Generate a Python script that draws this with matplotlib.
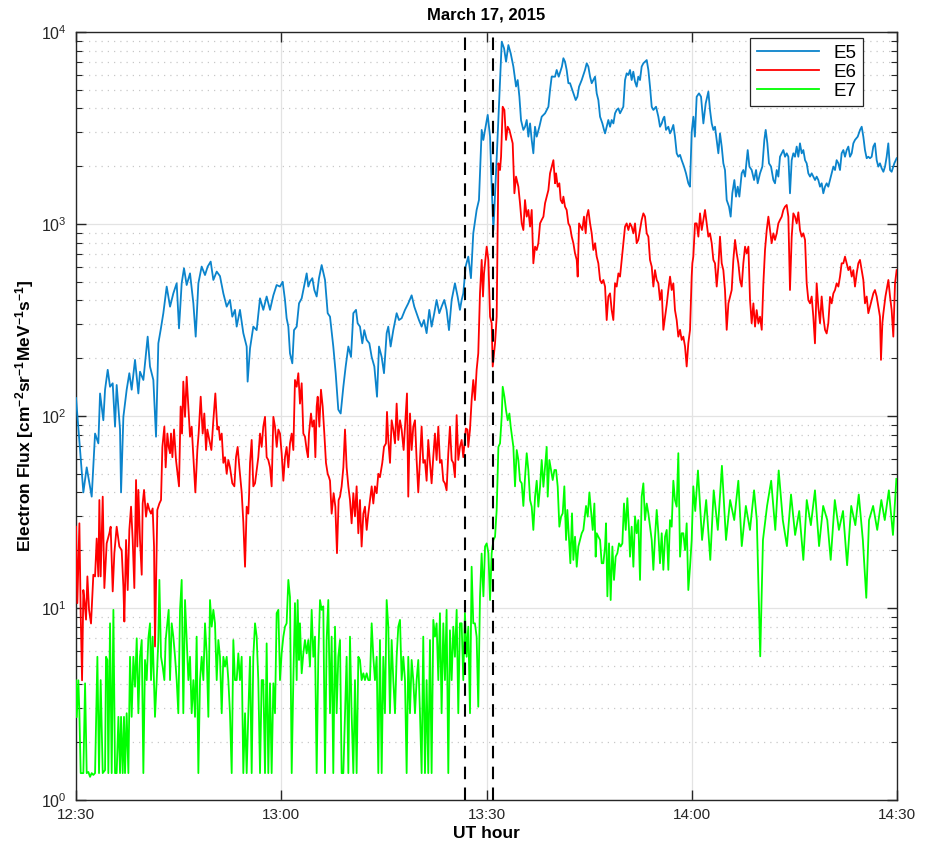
import numpy as np
import matplotlib
matplotlib.use('Agg')
import matplotlib.pyplot as plt
from matplotlib.ticker import LogLocator, NullFormatter, FixedLocator

plt.rcParams['font.family'] = ['Liberation Sans', 'DejaVu Sans']
plt.rcParams['mathtext.fontset'] = 'custom'
plt.rcParams['mathtext.rm'] = 'Liberation Sans'
plt.rcParams['mathtext.bf'] = 'Liberation Sans:bold'
plt.rcParams['mathtext.default'] = 'regular'

# tempo em minutos desde 12:30 UT
tick_minutes = [0, 30, 60, 90, 120]
tick_labels = ['12:30', '13:00', '13:30', '14:00', '14:30']
event_minutes = [56.8, 61.0]

t_e5 = [0, 1.07, 1.56, 2.29, 2.78, 3.26, 3.51, 3.99, 4.24, 4.63, 4.97, 5.36, 5.70, 5.94, 6.43, 6.58, 6.92,
        7.40, 7.79, 8.13, 8.62, 9.11, 9.35, 9.84, 10.47, 10.81, 11.30, 11.69, 12.03, 12.37, 12.76, 13.25,
        13.74, 14.22, 14.71, 15.05, 15.44, 15.78, 16.17, 16.66, 17.15, 17.49, 17.88, 18.36, 18.85, 19.24,
        19.68, 20.07, 20.56, 21.04, 21.53, 22.02, 22.50, 22.84, 23.23, 23.48, 23.96, 24.45, 24.94, 25.08,
        25.43, 25.91, 26.40, 26.89, 27.37, 27.86, 28.35, 28.84, 29.32, 29.81, 30.20, 30.54,
        30.78, 31.03, 31.27, 31.61, 31.86, 32.25, 32.59, 32.98, 33.22, 33.71, 33.95, 34.19, 34.54, 34.83,
        35.17, 35.51, 35.90, 36.39, 36.78, 37.12, 37.60, 37.95, 38.33, 38.68, 39.07, 39.41, 39.80, 40.19,
        40.53, 40.92, 41.16, 41.50, 41.84, 42.13, 42.48, 42.87, 43.21, 43.60, 43.99, 44.28, 44.67, 45.01,
        45.40, 45.64, 45.98, 46.37, 46.86, 47.20, 47.59, 48.08, 48.56, 49.05, 49.44, 49.78, 50.12, 50.51,
        50.85, 51.24, 51.63, 51.97, 52.36, 52.70, 53.09, 53.43, 53.82, 54.16, 54.51, 54.90, 55.38, 55.77,
        56.11, 56.36, 56.60, 56.94, 57.33, 57.72, 58.06, 58.55, 58.89,
        59.29, 59.53, 59.78, 60.17, 60.51, 60.75, 61.0, 61.49, 61.87, 62.22, 62.56, 62.85, 63.19, 63.53,
        63.92, 64.31, 64.55, 64.80, 65.04, 65.38, 65.63, 65.87, 66.11, 66.36, 66.60, 66.84, 67.08, 67.33,
        67.72, 68.06, 68.55, 69.04, 69.28, 69.52, 70.01, 70.25, 70.55, 71.01, 71.23, 71.47, 71.71, 71.96,
        72.20, 72.45, 72.69, 73.03, 73.28, 73.52, 73.91, 74.39, 74.64, 74.88, 75.13, 75.37, 75.61, 75.86,
        76.10, 76.34, 76.59, 76.93, 77.17, 77.32, 77.56, 77.80, 78.05, 78.29, 78.54, 78.78, 79.02, 79.27,
        79.51, 79.75, 79.99, 80.24, 80.48, 80.73, 80.97, 81.21, 81.45, 81.70, 81.94, 82.18, 82.43, 82.67,
        82.92, 83.16, 83.41, 83.65, 83.89, 84.14, 84.38, 84.77, 85.11, 85.35, 85.60, 85.84, 85.99, 86.23,
        86.57, 86.81, 87.06, 87.30, 87.54, 87.79, 88.03, 88.28, 88.52, 88.86, 89.15, 89.49, 89.73, 89.98,
        90.23, 90.45, 90.71, 91.05, 91.35, 91.69, 92.03, 92.42, 92.66, 92.91, 93.15, 93.39, 93.64, 93.88,
        94.12, 94.37, 94.61, 94.85, 95.10, 95.44, 95.68, 95.92, 96.22, 96.46, 96.71, 96.95, 97.29, 97.53,
        97.78, 98.17, 98.42, 98.75, 99.10, 99.39, 99.63, 99.97, 100.31, 100.60, 100.80, 101.04, 101.28,
        101.58, 101.92, 102.16, 102.41, 102.65, 102.89, 103.14, 103.38, 103.63, 103.87, 104.11, 104.35,
        104.60, 104.84, 105.08, 105.33, 105.57, 105.81, 106.06, 106.30, 106.55, 106.79, 107.03, 107.28,
        107.52, 107.76, 108.01, 108.25, 108.49, 108.74, 108.98, 109.22, 109.47, 109.71, 109.95, 110.20,
        110.44, 110.69, 110.93, 111.17, 111.42, 111.66, 111.90, 112.15, 112.39, 112.64, 112.88, 113.12,
        113.37, 113.61, 113.85, 114.25, 114.59, 114.83, 115.07, 115.31, 115.56, 115.80, 116.04, 116.29,
        116.53, 116.77, 117.02, 117.26, 117.50, 117.75, 118.0, 118.24, 118.48, 118.72, 118.97, 119.21,
        119.6, 119.94]
e5 = [124, 40, 54, 38, 81, 72, 131, 95, 137, 174, 142, 148, 88, 145, 85, 40, 99,
      137, 167, 137, 196, 131, 170, 154, 259, 181, 154, 78, 239, 281, 343, 472,
      371, 435, 491, 286, 491, 588, 481, 553, 386, 259, 491, 600, 542, 600,
      637, 511, 565, 535, 435, 371, 402, 329, 357, 292, 357, 270, 230, 151,
      225, 292, 280, 410, 357, 419, 357, 425, 481, 472, 500, 402,
      323, 292, 212, 188, 280, 292, 386, 410, 453, 553, 472, 500, 522, 453,
      419, 522, 611, 511, 343, 329, 230, 167, 108, 103, 142, 181, 230, 203,
      343, 357, 304, 292, 239, 280, 249, 239, 203, 181, 126, 230, 203, 167,
      270, 292, 230, 280, 343, 316, 323, 357, 386, 425, 371, 343, 316, 292,
      316, 270, 357, 292, 343, 402, 343, 371, 402, 357, 280, 402, 491, 419,
      357, 402, 435, 600, 676, 522, 894, 1183, 1333,
      3090, 2738, 3090, 3700, 2850, 1564, 930, 2240, 4600, 8900, 8220, 7000, 8550, 7740,
      6600, 5200, 5620, 4600, 3470, 3090, 3210, 3480, 2850, 3340, 2738, 2334, 3210, 2850,
      3210, 3620, 3770, 4080, 4990, 5850, 5850, 6340, 5850, 6600, 7300, 7000, 6340, 5410,
      5410, 5090, 4790, 4420, 4600, 5190, 5620, 6340, 6870, 6600, 5850, 5410, 5620, 5850,
      4790, 4420, 3620, 3340, 3090, 2965, 3210, 3480, 3210, 3480, 3340, 3770, 3925, 4000,
      3770, 3925, 4080, 5620, 6090, 5970, 6340, 5620, 6210, 5510, 5190, 5850, 5620, 6600,
      6870, 7000, 7140, 6340, 5190, 4080, 3925, 4080, 3620, 3210, 3340, 3550, 3620, 3090,
      3210, 2965, 3090, 3280, 2850, 2334, 2240, 2290, 2150, 1990, 1836, 1629, 1564, 3000,
      3620, 2850, 4600, 4790, 4600, 3340, 4250, 4890, 3925, 3340, 3090, 3210, 2738, 2334,
      2965, 2530, 2070, 1910, 1333, 1230, 1092, 1445, 1694, 1388, 1564, 1388, 1836, 1910,
      1765, 2427, 1990, 1910, 1694, 1910, 1629, 1836, 1990, 2740, 3090, 2630, 2070,
      1990, 1694, 1629, 1910, 1765, 2240, 2334, 2427, 2240, 2334, 2240, 1445,
      2150, 2334, 2240, 2530, 2240, 2630, 2334, 2427, 2150, 2070, 1836, 1765,
      1836, 1765, 1694, 1765, 1694, 1564, 1629, 1445, 1564, 1629, 1564, 1694,
      1836, 1990, 1910, 2150, 2070, 1910, 2334, 2427, 2240, 2427, 2530, 2240,
      2334, 2630, 2740, 2850, 3090, 3210, 2850, 2427, 2200, 2240, 2200, 2240,
      2530, 2630, 2150, 1990, 2070, 1950, 1870, 1990, 2240, 2630, 1910, 1870,
      2070, 2200]

t_e6 = [0, 0.19, 0.49, 0.68, 0.88, 1.07, 1.27, 1.46, 1.66, 1.90, 2.19, 2.53, 2.78, 3.02, 3.26, 3.41, 3.60,
        3.90, 4.14, 4.48, 4.87, 5.06, 5.36, 5.60, 5.94, 6.33, 6.67, 6.92, 7.06, 7.31, 7.55, 7.79, 8.04,
        8.28, 8.52, 8.77, 8.96, 9.11, 9.35, 9.60, 9.74, 9.94, 10.23, 10.47, 10.72, 10.96, 11.20, 11.40,
        11.54, 11.69, 11.88, 12.18, 12.42, 12.62, 12.91, 13.10, 13.35, 13.54, 13.74, 13.88, 14.08, 14.32,
        14.61, 15.05, 15.29, 15.49, 15.68, 15.93, 16.17, 16.42, 16.66, 16.90, 17.24, 17.44, 17.73, 17.92,
        18.22, 18.51, 18.75, 19.0, 19.19, 19.48, 19.78, 20.07, 20.36, 20.65, 20.85, 21.04, 21.29, 21.53,
        21.77, 22.02, 22.26, 22.50, 22.84, 23.14, 23.38, 23.62, 23.87, 24.21, 24.45, 24.70, 24.94, 25.18,
        25.30, 25.43, 25.67, 25.91, 26.16, 26.40, 26.64, 26.89, 27.13, 27.37, 27.62, 27.86, 28.10, 28.35,
        28.59, 28.84, 29.08, 29.33, 29.57, 29.81, 30.05, 30.30, 30.54, 30.78, 31.03, 31.27, 31.52, 31.76,
        32.0, 32.25, 32.49, 32.73, 32.98, 33.22, 33.46, 33.71, 33.90, 34.05, 34.34, 34.54, 34.78, 34.98,
        35.17, 35.32, 35.56, 35.80, 36.05, 36.29, 36.53, 36.78, 36.97, 37.12, 37.36, 37.65, 37.90, 38.14,
        38.38, 38.58, 38.82, 39.07, 39.31, 39.55, 39.80, 40.04, 40.28, 40.53, 40.77, 41.01, 41.26, 41.50,
        41.74, 41.99, 42.23, 42.48, 42.72, 42.97, 43.21, 43.45, 43.69, 43.94, 44.18, 44.42, 44.76, 45.01,
        45.30, 45.45, 45.64, 45.89, 46.13, 46.37, 46.62, 46.86, 47.10, 47.35, 47.59, 47.88, 48.08, 48.37,
        48.56, 48.81, 49.05, 49.29, 49.54, 49.78, 50.02, 50.27, 50.51, 50.75, 50.99, 51.24, 51.48, 51.73,
        51.97, 52.21, 52.46, 52.70, 52.95, 53.19, 53.43, 53.68, 53.92, 54.16, 54.41, 54.65, 54.90, 55.14,
        55.38, 55.63, 55.87, 56.11, 56.36, 56.60, 56.97, 57.21, 57.33, 57.58, 57.82, 58.06, 58.30, 58.55,
        58.79, 59.04, 59.29, 59.48, 59.63, 60.02, 60.26, 60.51, 60.75, 60.90, 61.09, 61.24, 61.48, 61.73,
        61.97, 62.12, 62.36, 62.61, 62.85, 63.09, 63.34, 63.58, 63.82, 64.07, 64.31, 64.65, 64.89, 65.14,
        65.38, 65.62, 65.87, 66.11, 66.36, 66.60, 66.84, 67.09, 67.33, 67.57, 67.82, 68.06, 68.31, 68.55,
        68.79, 69.04, 69.28, 69.53, 69.77, 70.01, 70.16, 70.40, 70.64, 70.84, 71.08, 71.23, 71.47, 71.71,
        71.96, 72.20, 72.45, 72.69, 72.93, 73.18, 73.32, 73.52, 73.76, 74.0, 74.24, 74.49, 74.64, 74.88,
        75.13, 75.37, 75.61, 75.86, 76.10, 76.34, 76.59, 76.83, 77.07, 77.32, 77.56, 77.80, 78.05, 78.29,
        78.53, 78.78, 79.02, 79.27, 79.51, 79.75, 80.0, 80.24, 80.48, 80.73, 80.97, 81.21, 81.46, 81.70,
        81.94, 82.18, 82.43, 82.67, 82.92, 83.16, 83.41, 83.65, 83.89, 84.14, 84.38, 84.62, 84.87, 85.11,
        85.35, 85.60, 85.84, 86.09, 86.33, 86.57, 86.82, 87.06, 87.30, 87.54, 87.79, 88.03, 88.28, 88.52,
        88.76, 89.01, 89.25, 89.49, 89.74, 89.98, 90.08, 90.22, 90.47, 90.71, 90.96, 91.20, 91.45, 91.69,
        91.93, 92.18, 92.42, 92.66, 92.91, 93.15, 93.39, 93.64, 93.88, 94.12, 94.37, 94.61, 94.85, 95.10,
        95.35, 95.59, 95.83, 96.07, 96.32, 96.56, 96.80, 97.05, 97.29, 97.53, 97.78, 98.02, 98.27, 98.51,
        98.75, 99.0, 99.24, 99.48, 99.73, 99.97, 100.22, 100.46, 100.70, 100.95, 101.19, 101.43, 101.67,
        101.92, 102.16, 102.41, 102.65, 102.89, 103.14, 103.38, 103.62, 103.87, 104.11, 104.35, 104.60,
        104.84, 105.08, 105.33, 105.57, 105.81, 106.06, 106.30, 106.55, 106.79, 107.03, 107.28, 107.52,
        107.76, 108.0, 108.25, 108.49, 108.74, 108.98, 109.22, 109.47, 109.71, 109.95, 110.20, 110.44,
        110.69, 110.93, 111.17, 111.42, 111.66, 111.90, 112.15, 112.39, 112.64, 112.88, 113.12, 113.37,
        113.61, 113.85, 114.10, 114.34, 114.58, 114.83, 115.07, 115.31, 115.56, 115.80, 116.04, 116.29,
        116.53, 116.77, 117.02, 117.26, 117.50, 117.65, 117.85, 118.0, 118.30, 118.73, 118.97, 119.21,
        119.45, 119.70, 119.94]
e6 = [26.5, 10.6, 27.6, 9.4, 4.2, 12.4, 10.6, 8.7, 14.6, 9.8, 8.3, 14.9, 14.6, 23, 14.6, 36.5, 14.6,
      38, 12.7, 21.7, 24.5, 26.5, 12.2, 19.3, 26.5, 20.9, 20, 12.9, 8.5, 22.6, 12.4, 25.5, 33.7,
      22.6, 12.7, 46.4, 20.9, 41.2, 22.6, 14.9, 35, 41.2, 29.9, 35, 32.4, 31, 33, 20.9,
      6.3, 12.9, 32.4, 35, 36.5, 69, 88, 54, 81, 69, 64, 81, 61, 85,
      59, 43, 112, 81, 151, 99, 160, 112, 78, 88, 54, 40, 66.5, 81,
      126, 81, 103, 66.5, 85, 75, 66.5, 95, 131, 85, 88, 75, 81, 57,
      61, 50, 59, 54, 44.6, 43, 61, 69, 54, 40, 28, 16.4, 33.7, 31,
      39.6, 57, 75, 43, 44.6, 52, 61, 81, 69, 88, 99, 61, 59, 54,
      43, 99, 88, 69, 85, 81, 64, 46, 61, 69, 54, 72, 81, 66.5,
      154, 142, 167, 116, 148, 81, 78, 66.5, 61, 81, 103, 88, 95, 61,
      112, 126, 88, 137, 112, 81, 57, 50, 48, 46, 31, 39.6, 33.7, 19.3,
      36.5, 38, 43, 54, 85, 54, 43, 36.5, 27.6, 39.6, 30, 43, 24.5, 36.5,
      20.9, 31, 33.7, 25.5, 31, 36.5, 43, 35, 43, 39.6, 50, 48, 57, 69,
      72, 105, 75, 57, 95, 85, 72, 116, 75, 95, 85, 66.5, 88, 131,
      38, 103, 66.5, 88, 95, 59, 40, 59, 88, 57, 59, 46, 75, 57,
      44.6, 61, 81, 59, 88, 57, 59, 46, 44.6, 41, 64, 88, 59, 57,
      48, 101, 59, 69, 75, 61, 86, 85, 69, 85, 121, 154, 121, 174,
      212, 435, 650, 419, 553, 762, 650, 329, 304, 181, 212, 239, 329, 2070,
      1910, 2240, 4080, 3925, 2740, 3210, 3090, 2850, 2630, 1445, 1765, 1564, 1282, 1007,
      930, 1333, 1092, 1183, 969, 1183, 624, 762, 732, 794, 1007, 1050, 1092, 1282,
      1388, 1503, 1836, 1990, 2150, 1629, 1836, 1564, 1629, 1333, 1282, 1388, 1230, 1183,
      1007, 969, 859, 794, 703, 650, 532, 1007, 969, 930, 1092, 894, 1092, 1183,
      1007, 894, 732, 794, 676, 624, 511, 491, 511, 472, 316, 419, 435, 356,
      316, 491, 472, 553, 532, 650, 794, 969, 1007, 930, 1007, 969, 894, 1007,
      794, 826, 930, 1050, 1136, 1092, 894, 859, 650, 600, 472, 575, 511, 491,
      402, 453, 281, 329, 380, 453, 532, 453, 491, 356, 316, 259, 281, 249,
      259, 230, 181, 239, 281, 532, 624, 676, 1007, 1007, 859, 1136, 930, 1050,
      1183, 1007, 859, 894, 794, 650, 624, 472, 600, 859, 624, 575, 453, 281,
      386, 419, 453, 650, 826, 703, 624, 511, 472, 624, 762, 703, 762, 402,
      304, 386, 292, 356, 304, 329, 281, 491, 732, 930, 1092, 930, 794,
      894, 826, 894, 1007, 1050, 1092, 1183, 1230, 1256, 1092, 453, 859,
      1136, 1092, 1007, 1150, 930, 859, 894, 826, 491, 402, 386, 419,
      329, 239, 491, 370, 304, 419, 329, 281, 269, 304, 417, 386,
      435, 453, 491, 472, 532, 624, 624, 676, 624, 575, 600, 532,
      575, 472, 553, 624, 650, 575, 511, 386, 419, 343, 370, 402,
      435, 453, 419, 370, 329, 196, 304, 343, 419, 511, 419, 356,
      259, 491, 575]

t_e7 = [0, 0.10, 0.34, 0.49, 0.68, 1.07, 1.32, 1.56, 1.80, 2.05, 2.29, 2.53, 2.78, 3.12, 3.36, 3.60, 3.90,
        4.24, 4.38, 4.58, 4.72, 4.97, 5.21, 5.46, 5.70, 5.94, 6.19, 6.43, 6.58, 6.82, 7.01, 7.16, 7.40,
        7.65, 7.89, 8.13, 8.38, 8.62, 8.87, 9.11, 9.35, 9.60, 9.84, 10.08, 10.33, 10.57, 10.81, 10.96,
        11.20, 11.54, 11.79, 12.03, 12.18, 12.42, 12.66, 12.91, 13.10, 13.35, 13.54, 13.74, 13.98, 14.22,
        14.47, 14.71, 14.95, 15.2, 15.44, 15.68, 15.93, 16.17, 16.42, 16.66, 16.90, 17.15, 17.39, 17.63,
        17.88, 18.12, 18.36, 18.61, 18.85, 19.09, 19.34, 19.58, 19.83, 20.07, 20.31, 20.56, 20.80, 21.04,
        21.29, 21.53, 21.77, 22.02, 22.26, 22.50, 22.75, 22.99, 23.23, 23.48, 23.72, 23.96, 24.21, 24.45,
        24.70, 24.94, 25.18, 25.43, 25.67, 25.91, 26.16, 26.40, 26.64, 26.89, 27.13, 27.37, 27.62, 27.86,
        28.10, 28.35, 28.59, 28.84, 29.08, 29.32, 29.57, 29.81, 30.05, 30.30, 30.54, 30.78, 31.03, 31.27,
        31.52, 31.76, 32.0, 32.25, 32.39, 32.59, 32.73, 32.98, 33.22, 33.46, 33.71, 33.95, 34.19, 34.44,
        34.68, 34.92, 35.17, 35.41, 35.66, 35.90, 36.14, 36.39, 36.63, 36.87, 37.12, 37.36, 37.60, 37.85,
        38.09, 38.33, 38.58, 38.82, 39.07, 39.31, 39.55, 39.80, 40.04, 40.28, 40.53, 40.77, 41.01, 41.26,
        41.50, 41.74, 41.99, 42.23, 42.48, 42.72, 42.96, 43.21, 43.45, 43.69, 43.94, 44.18, 44.42, 44.67,
        44.91, 45.15, 45.40, 45.64, 45.88, 46.13, 46.37, 46.62, 46.86, 47.10, 47.35, 47.59, 47.83, 48.08,
        48.32, 48.56, 48.81, 49.05, 49.29, 49.54, 49.78, 50.02, 50.27, 50.51, 50.75, 51.0, 51.24, 51.48,
        51.73, 51.97, 52.22, 52.46, 52.70, 52.95, 53.19, 53.43, 53.68, 53.92, 54.16, 54.41, 54.65, 54.90,
        55.14, 55.38, 55.63, 55.87, 56.11, 56.36, 56.60, 56.84, 57.09, 57.33, 57.58, 57.82, 58.06, 58.30,
        58.55, 58.79, 59.04, 59.28, 59.54, 59.78, 60.02, 60.27, 60.51, 60.75, 61.0, 61.24, 61.48, 61.73,
        61.97, 62.22, 62.36, 62.61, 62.85, 63.09, 63.34, 63.53, 63.73, 63.92, 64.16, 64.41, 64.65, 64.89,
        65.14, 65.38, 65.63, 65.87, 66.11, 66.36, 66.60, 66.84, 67.09, 67.33, 67.57, 67.82, 68.06, 68.31,
        68.55, 68.79, 68.94, 69.18, 69.43, 69.67, 69.92, 70.16, 70.40, 70.64, 70.89, 71.13, 71.37, 71.62,
        71.81, 72.06, 72.25, 72.49, 72.69, 72.93, 73.18, 73.42, 73.66, 73.91, 74.15, 74.54, 74.79, 75.03,
        75.22, 75.52, 75.76, 75.95, 76.10, 76.34, 76.59, 76.83, 77.07, 77.32, 77.46, 77.66, 77.90, 78.14,
        78.39, 78.63, 78.87, 79.12, 79.36, 79.60, 79.85, 80.09, 80.34, 80.58, 80.82, 80.97, 81.21, 81.46,
        81.70, 81.94, 82.18, 82.43, 82.67, 82.92, 83.16, 83.41, 83.65, 83.89, 84.14, 84.38, 84.62, 84.87,
        85.11, 85.35, 85.60, 85.84, 86.09, 86.33, 86.57, 86.81, 87.06, 87.30, 87.54, 87.79, 88.03, 88.28,
        88.52, 88.76, 89.01, 89.25, 89.49, 89.74, 89.98, 90.22, 90.5, 90.9, 91.5, 92.1, 92.7, 93.2, 93.8,
        94.4, 95.0, 95.6, 96.2, 96.8, 97.3, 97.9, 98.5, 99.1, 99.5, 100.0, 100.4, 101.0, 101.6, 102.2,
        102.7, 103.3, 103.9, 104.5, 105.1, 105.7, 106.3, 106.8, 107.4, 108.0, 108.6, 109.2, 109.8, 110.3,
        110.9, 111.5, 112.1, 112.7, 113.3, 113.9, 114.4, 115.0, 115.5, 115.9, 116.5, 117.1, 117.7, 118.2,
        118.8, 119.4, 119.9]
e7 = [4.2, 2.7, 4.2, 2.83, 1.38, 1.38, 4.05, 1.38, 1.40, 1.32, 1.38, 1.35, 1.38, 5.57, 1.38, 4.21, 1.38,
      1.43, 5.57, 5.36, 1.38, 8.32, 1.38, 9.78, 1.38, 1.38, 2.71, 1.38, 2.71, 1.38, 2.71, 1.38, 2.83,
      1.38, 5.57, 2.71, 5.57, 3.89, 6.95, 2.83, 5.57, 6.81, 1.38, 5.36, 4.21, 6.95, 8.32, 4.21,
      7.09, 2.71, 4.21, 6.81, 14.0, 5.57, 4.95, 4.21, 6.81, 8.32, 9.78, 4.21, 8.32, 7.09,
      5.57, 4.21, 2.83, 9.78, 14.0, 2.83, 11.0, 6.81, 4.21, 5.57, 2.83, 4.21, 2.71, 7.09,
      1.38, 4.21, 5.57, 4.21, 8.32, 5.80, 2.71, 11.0, 7.99, 9.78, 8.32, 4.21, 6.81, 5.57,
      2.83, 5.57, 4.95, 5.57, 4.21, 2.83, 1.38, 6.81, 4.21, 4.21, 5.80, 4.21, 5.57, 1.38,
      2.83, 1.38, 2.83, 5.57, 1.38, 5.57, 8.32, 7.09, 4.21, 1.38, 4.21, 4.21, 1.38, 6.54,
      1.38, 4.05, 1.38, 4.05, 2.83, 9.39, 9.78, 4.21, 5.80, 7.09, 7.99, 8.32, 14.0, 11.4,
      1.38, 4.21, 10.6, 4.21, 11.0, 5.36, 8.32, 4.57, 5.80, 6.81, 5.80, 6.81, 4.95, 9.78,
      5.57, 7.09, 1.38, 5.57, 11.0, 9.78, 10.2, 1.38, 6.81, 11.0, 2.83, 7.09, 1.38, 7.99,
      2.83, 5.57, 6.81, 1.38, 1.38, 2.83, 5.57, 1.38, 7.09, 2.83, 1.38, 4.21, 1.38, 5.57,
      5.36, 4.21, 4.57, 4.21, 4.57, 4.21, 4.21, 8.32, 5.57, 4.21, 5.57, 1.38, 6.81, 1.38,
      5.57, 2.83, 11.0, 7.99, 2.83, 6.81, 4.21, 2.83, 5.57, 7.99, 8.67, 4.21, 5.57, 4.21,
      1.38, 5.57, 2.83, 5.36, 4.21, 2.83, 4.21, 5.36, 2.83, 1.38, 7.09, 1.38, 4.21, 1.38,
      6.81, 1.38, 8.67, 7.09, 8.32, 4.21, 9.39, 2.83, 8.32, 4.21, 9.78, 1.38, 7.65, 4.21,
      7.99, 5.57, 9.78, 2.83, 8.32, 8.32, 4.21, 9.39, 5.57, 7.99, 2.83, 16.4, 8.32, 8.32,
      7.09, 3.06, 11.4, 19.2, 11.5, 20.9, 21.7, 19.3, 11.0, 19.3, 22.6, 23.5, 32.4, 69,
      72, 100, 142, 126, 107, 95, 103, 88, 78, 69, 43, 66.5, 59, 46,
      44.6, 34, 48.3, 64, 52.3, 36.5, 33.7, 25.5, 38, 46, 33.7, 42.8, 59, 42.8,
      54.5, 69, 38, 59, 52.3, 46.4, 52.3, 52.3, 42.8, 26.5, 29.9, 31.1, 43, 22.6,
      32.4, 22.6, 17.1, 31.1, 17.8, 23.5, 16.4, 20.9, 22.6, 24.5, 25.5, 34, 29.9, 40,
      33.7, 25.5, 35, 18.5, 24.5, 23.5, 22.6, 17.1, 17.1, 20.9, 27.6, 11.5, 21.7, 11.0,
      20.9, 14.0, 18.5, 19.3, 21.7, 20.9, 21.7, 35, 25.5, 37.3, 25.5, 18.5, 26.5, 16.4,
      30, 24.5, 28.7, 14.0, 38, 44.6, 28.7, 35, 31.1, 26.5, 22.6, 15.8, 23.5, 32.4,
      24.5, 17.1, 24.5, 15.8, 23.5, 25.5, 15.8, 28.7, 26.5, 46, 36.5, 33.7, 64, 18.5,
      24.5, 24.5, 20, 27.6, 12.4, 16.4, 22.6, 43, 32, 52, 22.6, 36.5, 17.8, 41, 25.5,
      55, 22.6, 36.5, 28.7, 46, 21, 34, 25.5, 41, 28.7, 5.6, 22.6, 34, 46, 25.5,
      52, 28.7, 21, 39, 24, 32, 17.8, 36.5, 27, 41, 21, 34, 28.7, 17.8,
      36.5, 25.5, 32, 16.7, 34, 27, 39, 22.6, 11.3, 28.7, 34, 25.5, 36.5, 28.7,
      41, 24, 47]

fig = plt.figure(figsize=(9.25, 8.46), dpi=100)
ax = fig.add_axes([0.0822, 0.0544, 0.8876, 0.9078])

ax.plot(t_e5, e5, color='#0b84cc', lw=1.3, label='E5', zorder=3)
ax.plot(t_e6, e6, color='#ff0000', lw=1.3, label='E6', zorder=3)
ax.plot(t_e7, e7, color='#00ff00', lw=1.3, label='E7', zorder=3)

for tm in event_minutes:
    ax.axvline(tm, color='black', lw=1.5, ls=(0, (6, 4)), zorder=4)

ax.set_yscale('log')
ax.set_ylim(1, 1e4)
ax.set_xlim(tick_minutes[0], tick_minutes[-1])
ax.xaxis.set_major_locator(FixedLocator(tick_minutes))
ax.set_xticklabels(tick_labels)
ax.yaxis.set_major_locator(LogLocator(base=10, numticks=10))
ax.yaxis.set_minor_locator(LogLocator(base=10, subs=np.arange(2, 10), numticks=20))
ax.yaxis.set_minor_formatter(NullFormatter())

ax.grid(True, which='major', axis='both', color='#e3e3e3', lw=0.9, ls='-', zorder=0)
ax.grid(True, which='minor', axis='y', color='#c8c8c8', lw=0.9, ls=(0, (1, 4)), zorder=0)

ax.tick_params(which='both', direction='in', top=True, right=True, colors='#262626')
ax.tick_params(axis='x', labelsize=11, pad=6)
ax.tick_params(axis='y', labelsize=11.5, pad=7)
ax.tick_params(which='major', length=7, width=1)
ax.tick_params(which='minor', length=4, width=0.8)
for sp in ax.spines.values():
    sp.set_color('#262626')
    sp.set_linewidth(1)

ax.set_title('March 17, 2015', fontsize=12, fontweight='bold', pad=9)
ax.set_xlabel('UT hour', fontsize=12.5, fontweight='bold', labelpad=3)
ax.set_ylabel(r'Electron Flux [cm$^{\mathbf{-2}}$sr$^{\mathbf{-1}}$MeV$^{\mathbf{-1}}$s$^{\mathbf{-1}}$]',
              fontsize=12.5, fontweight='bold', labelpad=3)

leg = ax.legend(loc='upper right', bbox_to_anchor=(0.959, 0.992), borderaxespad=0, fontsize=13.5,
                handlelength=3.3, labelspacing=0.1, fancybox=False, framealpha=1, borderpad=0.35)
leg.get_frame().set_edgecolor('#262626')
leg.get_frame().set_linewidth(0.9)

fig.savefig('out.png', dpi=100)
